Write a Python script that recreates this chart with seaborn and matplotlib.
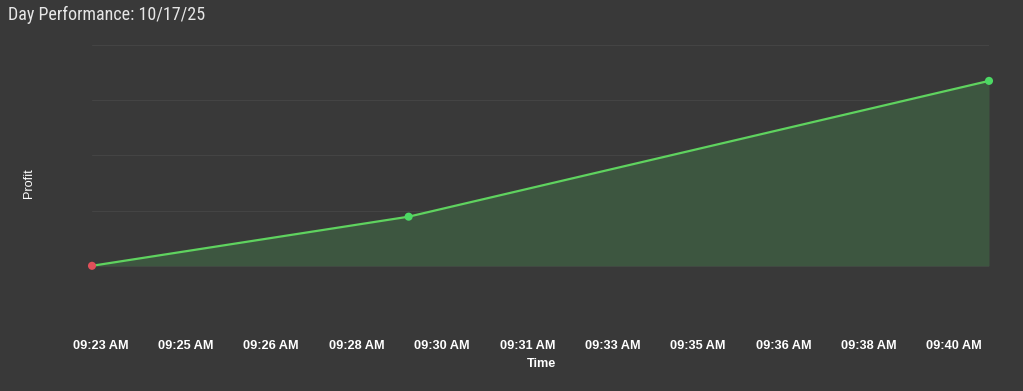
import matplotlib
matplotlib.use("Agg")
import matplotlib.pyplot as plt
import seaborn as sns
import pandas as pd
from matplotlib import font_manager

# ---- data ----
times = ["2025-10-17 09:23:20", "2025-10-17 09:29:31", "2025-10-17 09:40:51"]
profit = [0, 89, 335]
marker_colors = ["#e0505a", "#4cd964", "#4cd964"]
tick_times = ["2025-10-17 09:23:30", "2025-10-17 09:25:10", "2025-10-17 09:26:50",
              "2025-10-17 09:28:30", "2025-10-17 09:30:10", "2025-10-17 09:31:50",
              "2025-10-17 09:33:30", "2025-10-17 09:35:10", "2025-10-17 09:36:50",
              "2025-10-17 09:38:30", "2025-10-17 09:40:10"]
tick_labels = ["09:23 AM", "09:25 AM", "09:26 AM", "09:28 AM", "09:30 AM", "09:31 AM",
               "09:33 AM", "09:35 AM", "09:36 AM", "09:38 AM", "09:40 AM"]
y_ticks = [-100, 0, 100, 200, 300, 400]
title = "Day Performance: 10/17/25"

df = pd.DataFrame({"Time": pd.to_datetime(times), "Profit": profit})

BG = "#393939"
sns.set_theme(style="dark")
plt.rcParams["font.family"] = ["Liberation Sans", "DejaVu Sans"]

names = {f.name for f in font_manager.fontManager.ttflist}
title_font = "Roboto"
for cand in ["Roboto Condensed", "Liberation Sans Narrow", "Open Sans Condensed"]:
    if cand in names:
        title_font = cand
        break

fig = plt.figure(figsize=(10.23, 3.91), dpi=100, facecolor=BG)
ax = fig.add_axes([92/1023, 1 - 321/391, (989 - 92)/1023, (321 - 45)/391])
ax.set_facecolor(BG)

ax.fill_between(df["Time"], df["Profit"], 0, color="#3d5640", linewidth=0, zorder=1)
sns.lineplot(data=df, x="Time", y="Profit", ax=ax, color="#5fd35f", linewidth=1.6, zorder=3)
ax.scatter(df["Time"], df["Profit"], c=marker_colors, s=34, zorder=4, linewidths=0, clip_on=False)

ax.set_xlim(df["Time"].iloc[0], df["Time"].iloc[-1])
ax.set_ylim(y_ticks[0], y_ticks[-1])
ax.set_yticks(y_ticks)
ax.set_yticklabels([])
ax.set_xticks(pd.to_datetime(tick_times))
ax.set_xticklabels(tick_labels, color="white", fontsize=9.2, fontweight="bold")
ax.tick_params(axis="x", length=0, pad=14)
ax.tick_params(axis="y", length=0)
ax.grid(axis="y", color="#444444", linewidth=0.8)
ax.grid(axis="x", visible=False)
for s in ax.spines.values():
    s.set_visible(False)

ax.set_xlabel("")
ax.set_ylabel("")
fig.text(542/1023, 1 - 364/391, "Time", color="white", fontsize=9.2, fontweight="bold",
         ha="center", va="center")
fig.text(29/1023, 1 - 183/391, "Profit", color="white", fontsize=9.2, ha="center", va="center",
         rotation=90)
t = fig.text(8/1023, 1 - 15/391, title, color="#e6e6e6", fontsize=14, ha="left", va="center",
             family=[title_font, "DejaVu Sans"])

# fit the title to the reference width (~198 px)
fig.canvas.draw()
w = t.get_window_extent(fig.canvas.get_renderer()).width
if w > 0:
    t.set_fontsize(14 * min(1.0, 198 / w))

fig.savefig("out.png", dpi=100, facecolor=BG)
